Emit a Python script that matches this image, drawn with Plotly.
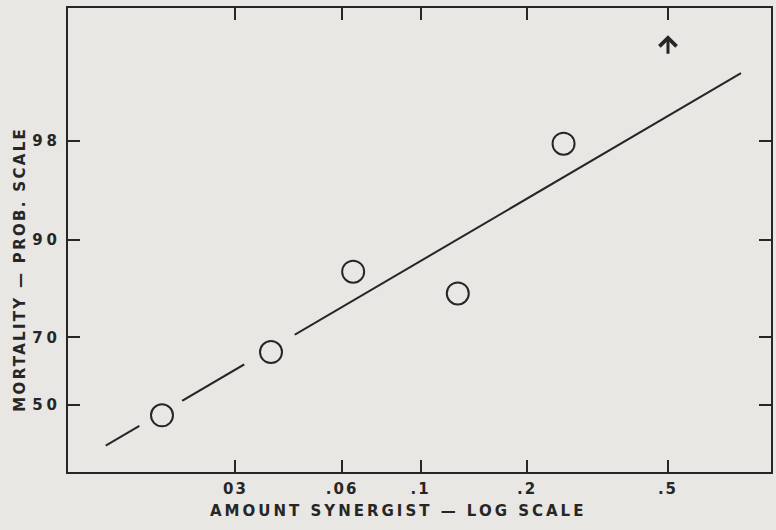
import math
import plotly.graph_objects as go
from statistics import NormalDist

# ---- data ----
dose = [0.0186, 0.0378, 0.0645, 0.1274, 0.2535]          # amount synergist
mortality = [46.7, 65.9, 85.0, 80.7, 97.9]               # percent
fit_dose = [0.0129, 0.804]                               # fitted line ends
fit_mortality = [37.5, 99.51]
arrow_dose = [0.5]                                       # 100 % kill (off scale)
arrow_mortality = [99.80]
x_tickvals = [0.03, 0.06, 0.1, 0.2, 0.5]
x_ticktext = ["03", ".06", ".1", ".2", ".5"]
y_tickvals_pct = [50, 70, 90, 98]
y_ticktext = ["50", "70", "90", "98"]
x_range_log = [-1.996, -0.010]
y_range_pct = [30.0, 99.9]

ND = NormalDist()


def probit(p):
    return ND.inv_cdf(p / 100.0)


PAPER = "#e8e7e4"
INK = "#262626"
FONT = "DejaVu Sans"

fig = go.Figure()

# fitted line
fig.add_trace(go.Scatter(
    x=fit_dose, y=[probit(v) for v in fit_mortality], mode="lines",
    line=dict(color=INK, width=2), hoverinfo="skip", showlegend=False))

# paper-coloured clearing behind the circles (the line is broken there)
fig.add_trace(go.Scatter(
    x=dose, y=[probit(v) for v in mortality], mode="markers",
    marker=dict(symbol="circle", size=[50, 59, 0, 0, 0], color=PAPER,
                opacity=1, line=dict(width=0)),
    hoverinfo="skip", showlegend=False))

# observed points
fig.add_trace(go.Scatter(
    x=dose, y=[probit(v) for v in mortality], mode="markers",
    marker=dict(symbol="circle-open", size=22, color=INK, opacity=1,
                line=dict(width=2, color=INK)),
    showlegend=False))

# arrow above .5 (mortality off the top of the scale)
# annotations on a log axis are positioned in log10 units
fig.add_annotation(
    x=math.log10(arrow_dose[0]), y=probit(arrow_mortality[0]),
    xref="x", yref="y",
    showarrow=True, ax=0, ay=20, arrowhead=4, arrowsize=1.1,
    arrowwidth=3.0, arrowcolor=INK, text="", standoff=0, startstandoff=0)

axis_common = dict(
    showline=True, linewidth=2, linecolor=INK, mirror="ticks",
    ticks="inside", ticklen=12, tickwidth=2, tickcolor=INK,
    showgrid=False, zeroline=False,
    tickfont=dict(family=FONT, size=15, color=INK, weight="bold"),
)

fig.update_xaxes(type="log", range=x_range_log, tickvals=x_tickvals,
                 ticktext=x_ticktext, ticklabelstandoff=2, **axis_common)
fig.update_yaxes(range=[probit(y_range_pct[0]), probit(y_range_pct[1])],
                 tickvals=[probit(v) for v in y_tickvals_pct],
                 ticktext=y_ticktext, ticklabelstandoff=2, **axis_common)

title_font = dict(family=FONT, size=15, color=INK, weight="bold")
fig.add_annotation(text="AMOUNT SYNERGIST — LOG SCALE", xref="paper",
                   yref="paper", x=0.4695, y=-0.084, showarrow=False,
                   xanchor="center", yanchor="middle", font=title_font,
                   name="xtitle")
fig.add_annotation(text="MORTALITY — PROB. SCALE", xref="paper",
                   yref="paper", x=-0.068, y=0.4375, showarrow=False,
                   xanchor="center", yanchor="middle", textangle=-90,
                   font=title_font, name="ytitle")

fig.update_layout(
    width=776, height=530,
    margin=dict(l=68, r=3, t=8, b=58),
    paper_bgcolor=PAPER, plot_bgcolor=PAPER,
    showlegend=False,
)

post = """
document.documentElement.style.margin='0';
document.body.style.margin='0';
document.body.style.background='""" + PAPER + """';
var gd = document.getElementById('{plot_id}');
function spaceText(){
  gd.querySelectorAll('.ytick text').forEach(function(t){t.style.letterSpacing='4px';});
  gd.querySelectorAll('.xtick text').forEach(function(t){t.style.letterSpacing='2px';});
  gd.querySelectorAll('.annotation-text').forEach(function(t){
    var s = t.textContent || '';
    if (s.indexOf('MORTALITY') === 0) { t.style.letterSpacing='2.3px'; }
    else if (s.indexOf('AMOUNT') === 0) { t.style.letterSpacing='3px'; }
  });
}
spaceText();
if (gd.on) { gd.on('plotly_afterplot', spaceText); }
"""

fig.write_html("out.html", post_script=post,
               config={"displayModeBar": False})
